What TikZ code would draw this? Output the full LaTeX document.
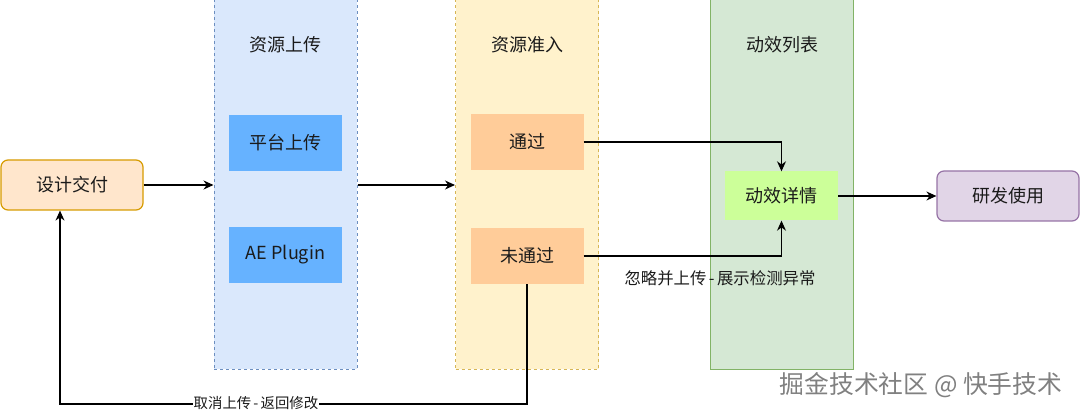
\documentclass[tikz,border=0pt]{standalone}
\usepackage{fontspec}
\setmainfont{Noto Sans CJK SC}
\usetikzlibrary{arrows.meta}
\definecolor{ofill}{HTML}{FFE6CC}\definecolor{odraw}{HTML}{D79B00}
\definecolor{bfill}{HTML}{DAE8FC}\definecolor{bdraw}{HTML}{6C8EBF}
\definecolor{yfill}{HTML}{FFF2CC}\definecolor{ydraw}{HTML}{D6B656}
\definecolor{gfill}{HTML}{D5E8D4}\definecolor{gdraw}{HTML}{82B366}
\definecolor{pfill}{HTML}{E1D5E7}\definecolor{pdraw}{HTML}{9673A6}
\definecolor{blue2}{HTML}{66B2FF}\definecolor{org2}{HTML}{FFCC99}
\definecolor{lime}{HTML}{CCFF99}\definecolor{txt}{HTML}{1A1A1A}
\newcommand{\dsh}{\hspace{0.15em}-\hspace{0.15em}}
\tikzset{
  rbox/.style={draw, line width=1.2pt, rounded corners=7pt, minimum width=142pt, minimum height=50pt, inner sep=0pt, font=\fontsize{18}{20}\selectfont, text=txt},
  sbox/.style={minimum width=113pt, minimum height=56pt, inner sep=0pt, font=\fontsize{18}{20}\selectfont, text=txt},
  cont/.style={line width=1pt, minimum width=143pt, minimum height=369pt, inner sep=0pt},
  title/.style={font=\fontsize{18}{20}\selectfont, text=txt},
  arr/.style={line width=1.1pt, -{Stealth[length=10pt,width=9pt]}},
  lbl/.style={text=txt, inner sep=1pt}
}
\begin{document}
\begin{tikzpicture}[x=1pt,y=-1pt]
\useasboundingbox (0,0) rectangle (1080,417);
% containers
\node[cont, draw=bdraw, fill=bfill, dashed] (cb) at (285.5,184.5) {};
\node[cont, draw=ydraw, fill=yfill, dashed] (cy) at (527,184.5) {};
\node[cont, draw=gdraw, fill=gfill] (cg) at (782,184.5) {};
\node[title] (tb) at (285.5,45) {资源上传};
\node[title] (ty) at (527,45) {资源准入};
\node[title] (tg) at (782,45) {动效列表};
% nodes
\node[rbox, draw=odraw, fill=ofill] (design) at (72,185) {设计交付};
\node[sbox, fill=blue2] (plat) at (285.5,143) {平台上传};
\node[sbox, fill=blue2] (ae) at (285.5,255) {AE Plugin};
\node[sbox, fill=org2] (pass) at (527,142) {通过};
\node[sbox, fill=org2] (fail) at (527,256) {未通过};
\node[sbox, fill=lime, minimum height=49pt] (detail) at (781.5,196) {动效详情};
\node[rbox, draw=pdraw, fill=pfill] (use) at (1008,196) {研发使用};
% connectors
\draw[arr] (design.east) -- (design.east -| cb.west);
\draw[arr] (cb.east |- design.east) -- (cy.west |- design.east);
\draw[arr] (pass.east) -| (detail.north);
\draw[arr] (fail.east) -| (detail.south);
\draw[arr] (detail.east) -- (use.west);
\coordinate (c1) at (527,404);
\coordinate (c2) at (60,404);
\draw[arr] (fail.south) -- (c1) -- (c2) -- (c2 |- design.south);
\node[lbl, font=\fontsize{16.4}{19}\selectfont] (l1) at (720,278) {忽略并上传\dsh 展示检测异常};
\node[lbl, fill=white, font=\fontsize{14.4}{16}\selectfont] (l2) at (256,403) {取消上传\dsh 返回修改};
\node[font=\fontsize{24.8}{26}\selectfont, text=black!50] (wm) at (921,385) {掘金技术社区 @ 快手技术};
\end{tikzpicture}
\end{document}
